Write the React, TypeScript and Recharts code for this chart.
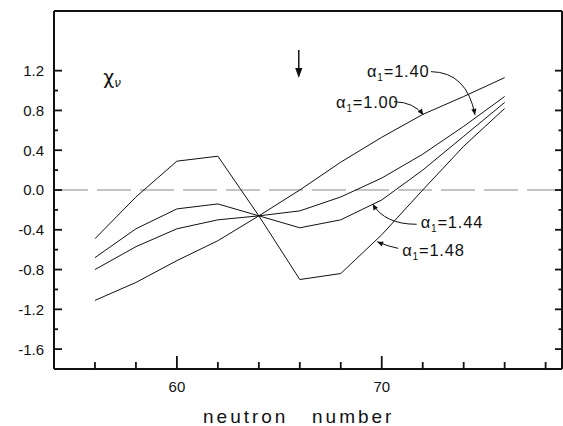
import React from 'react';
import { LineChart, Line, XAxis, YAxis, ReferenceLine, ReferenceDot } from 'recharts';

// neutron number and chi_nu for each alpha_1 curve
const neutrons = [56, 58, 60, 62, 64, 66, 68, 70, 72, 74, 76];
const alpha100 = [-1.11, -0.93, -0.71, -0.51, -0.26, 0.0, 0.28, 0.53, 0.76, 0.94, 1.13];
const alpha140 = [-0.8, -0.57, -0.39, -0.3, -0.26, -0.21, -0.07, 0.12, 0.36, 0.64, 0.94];
const alpha144 = [-0.68, -0.39, -0.19, -0.14, -0.26, -0.38, -0.3, -0.1, 0.2, 0.54, 0.88];
const alpha148 = [-0.49, -0.07, 0.29, 0.34, -0.26, -0.9, -0.84, -0.45, 0.0, 0.44, 0.82];

const xTicks = [56, 58, 60, 62, 64, 66, 68, 70, 72, 74, 76, 78];
const xLabelled = [60, 70];
const yTicks = [-1.6, -1.4, -1.2, -1.0, -0.8, -0.6, -0.4, -0.2, 0, 0.2, 0.4, 0.6, 0.8, 1.0, 1.2];
const yLabelled = [-1.6, -1.2, -0.8, -0.4, 0, 0.4, 0.8, 1.2];

const data = neutrons.map((n, i) => ({
  n,
  a100: alpha100[i],
  a140: alpha140[i],
  a144: alpha144[i],
  a148: alpha148[i],
}));

const FONT = "'Liberation Sans', Arial, sans-serif";
const INK = '#111';

const isIn = (list: number[], v: number) => list.some((t) => Math.abs(t - v) < 1e-6);

const BottomTick = (p: any) => {
  const v = p.payload.value;
  const major = isIn(xLabelled, v);
  return (
    <g>
      <line x1={p.x} x2={p.x} y1={p.y} y2={p.y - (major ? 13 : 7)} stroke={INK} strokeWidth={1.8} />
      {major && (
        <text x={p.x} y={p.y + 23} textAnchor="middle" fontSize={15} fill={INK} fontFamily={FONT}>
          {v}
        </text>
      )}
    </g>
  );
};

const TopTick = (p: any) => {
  const major = isIn(xLabelled, p.payload.value);
  return <line x1={p.x} x2={p.x} y1={p.y} y2={p.y + (major ? 10 : 5)} stroke={INK} strokeWidth={1.8} />;
};

const LeftTick = (p: any) => {
  const v = p.payload.value;
  const major = isIn(yLabelled, v);
  return (
    <g>
      <line x1={p.x} x2={p.x + (major ? 8 : 4)} y1={p.y} y2={p.y} stroke={INK} strokeWidth={1.8} />
      {major && (
        <text x={p.x - 10} y={p.y} dy="0.36em" textAnchor="end" fontSize={15} fill={INK} fontFamily={FONT}>
          {v.toFixed(1)}
        </text>
      )}
    </g>
  );
};

const RightTick = (p: any) => {
  const major = isIn(yLabelled, p.payload.value);
  return <line x1={p.x} x2={p.x - (major ? 7 : 3.5)} y1={p.y} y2={p.y} stroke={INK} strokeWidth={1.8} />;
};

// arrowhead at (x, y) pointing away from (fx, fy)
const head = (fx: number, fy: number, x: number, y: number) => {
  const a = Math.atan2(y - fy, x - fx);
  const L = 6;
  const W = 2.6;
  const bx = x - L * Math.cos(a);
  const by = y - L * Math.sin(a);
  const px = -Math.sin(a) * W;
  const py = Math.cos(a) * W;
  return `M${x},${y} L${bx + px},${by + py} L${bx - px},${by - py} Z`;
};

// label text at the dot, with a curved pointer drawn relative to it
const alphaLabel = (value: string, s: number[], c: number[], t: number[]) => (p: any) => {
  const { cx, cy } = p;
  return (
    <g>
      <text x={cx} y={cy} fontSize={16.5} fill={INK} fontFamily={FONT} letterSpacing={0.8}>
        <tspan>α</tspan>
        <tspan dy={4} fontSize={10}>1</tspan>
        <tspan dy={-4}>={value}</tspan>
      </text>
      <path
        d={`M${cx + s[0]},${cy + s[1]} Q${cx + c[0]},${cy + c[1]} ${cx + t[0]},${cy + t[1]}`}
        fill="none"
        stroke={INK}
        strokeWidth={1}
      />
      <path d={head(cx + c[0], cy + c[1], cx + t[0], cy + t[1])} fill={INK} />
    </g>
  );
};

const chiLabel = (p: any) => (
  <text x={p.cx} y={p.cy} fontSize={19} fill={INK} fontFamily="'DejaVu Sans', sans-serif">
    <tspan>χ</tspan>
    <tspan dy={3} fontSize={12} fontStyle="italic">ν</tspan>
  </text>
);

const downArrow = (p: any) => {
  const { cx, cy } = p;
  return (
    <g>
      <line x1={cx} x2={cx} y1={cy - 28} y2={cy - 8} stroke={INK} strokeWidth={1.5} />
      <path d={`M${cx},${cy} L${cx - 3.6},${cy - 10} L${cx + 3.6},${cy - 10} Z`} fill={INK} />
    </g>
  );
};

const axisLabel = (p: any) => {
  const vb = p.viewBox;
  const y = vb.y + 54;
  return (
    <g fontFamily={FONT} fontSize={19} fill={INK} letterSpacing={3}>
      <text x={vb.x + 149} y={y}>neutron</text>
      <text x={vb.x + 258} y={y}>number</text>
    </g>
  );
};

export default function App() {
  const line = { type: 'linear' as const, stroke: INK, strokeWidth: 1, dot: false, isAnimationActive: false };
  const axisLine = { stroke: INK, strokeWidth: 2 };
  return (
    <div style={{ position: 'absolute', left: 0, top: 0, background: '#fff' }}>
      <LineChart width={563} height={426} data={data} margin={{ top: 10, right: 0, left: 0, bottom: 0 }}>
        <XAxis
          xAxisId="b"
          dataKey="n"
          type="number"
          domain={[54, 78.8]}
          ticks={xTicks}
          interval={0}
          height={57}
          tickSize={0}
          tickMargin={0}
          tickLine={false}
          axisLine={axisLine}
          tick={BottomTick}
          allowDataOverflow
          label={{ content: axisLabel }}
        />
        <XAxis
          xAxisId="t"
          orientation="top"
          type="number"
          domain={[54, 78.8]}
          ticks={xTicks}
          interval={0}
          height={1}
          tickSize={0}
          tickMargin={0}
          tickLine={false}
          axisLine={axisLine}
          tick={TopTick}
          allowDataOverflow
        />
        <YAxis
          yAxisId="l"
          type="number"
          domain={[-1.8, 1.8]}
          ticks={yTicks}
          interval={0}
          width={54}
          tickSize={0}
          tickMargin={0}
          tickLine={false}
          axisLine={axisLine}
          tick={LeftTick}
          allowDataOverflow
        />
        <YAxis
          yAxisId="r"
          orientation="right"
          type="number"
          domain={[-1.8, 1.8]}
          ticks={yTicks}
          interval={0}
          width={1}
          tickSize={0}
          tickMargin={0}
          tickLine={false}
          axisLine={axisLine}
          tick={RightTick}
          allowDataOverflow
        />
        <ReferenceLine xAxisId="b" yAxisId="l" y={0} stroke="#8a8a8a" strokeWidth={1.2} strokeDasharray="34 9" />
        <Line xAxisId="b" yAxisId="l" dataKey="a100" {...line} />
        <Line xAxisId="b" yAxisId="l" dataKey="a140" {...line} />
        <Line xAxisId="b" yAxisId="l" dataKey="a144" {...line} />
        <Line xAxisId="b" yAxisId="l" dataKey="a148" {...line} />
        <ReferenceDot xAxisId="b" yAxisId="l" x={56.4} y={1.066} r={0} shape={chiLabel} />
        <ReferenceDot xAxisId="b" yAxisId="l" x={65.95} y={1.127} r={0} shape={downArrow} />
        <ReferenceDot
          xAxisId="b"
          yAxisId="l"
          x={69.28}
          y={1.134}
          r={0}
          shape={alphaLabel('1.40', [64, -5.6], [100, -5], [108, 37.7])}
        />
        <ReferenceDot
          xAxisId="b"
          yAxisId="l"
          x={67.77}
          y={0.822}
          r={0}
          shape={alphaLabel('1.00', [58, -6.6], [78, -6], [87.3, 6.7])}
        />
        <ReferenceDot
          xAxisId="b"
          yAxisId="l"
          x={71.9}
          y={-0.385}
          r={0}
          shape={alphaLabel('1.44', [-4, -4], [-36, -4], [-48, -24.3])}
        />
        <ReferenceDot
          xAxisId="b"
          yAxisId="l"
          x={71.0}
          y={-0.664}
          r={0}
          shape={alphaLabel('1.48', [-4, -7.7], [-14, -9.5], [-25, -14.3])}
        />
      </LineChart>
    </div>
  );
}
